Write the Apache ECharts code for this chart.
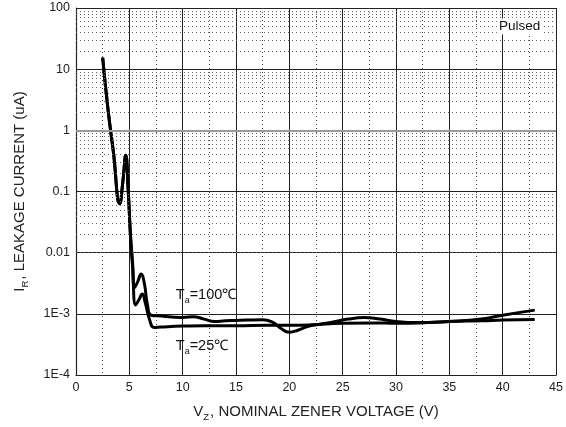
<!DOCTYPE html>
<html><head><meta charset="utf-8">
<script src="https://cdn.jsdelivr.net/npm/echarts@6/dist/echarts.min.js"></script>
<style>html,body{margin:0;padding:0;background:#fff}#c{width:566px;height:427px}</style>
</head><body><div id="c"></div>
<script>
// Data (V, uA)
const v100 = [2.5,3,3.5,4.1,4.4,4.66,4.9,5.1,5.3,5.5,5.8,6.1,6.4,6.7,7.05,8,9,10,11,12,13,14,15,16,17.5,18.5,19.2,20,20.8,21.7,22.5,24,25.5,27,28.5,30,32,35,38,40,43];
const i100 = [15.5,2.2,0.45,0.063,0.15,0.39,0.1,0.02,0.007,0.0027,0.0034,0.0045,0.0032,0.0014,0.00095,0.00092,0.00089,0.00087,0.0009,0.00082,0.00075,0.00077,0.00078,0.00079,0.0008,0.00072,0.00058,0.0005,0.00054,0.00062,0.00066,0.00073,0.00082,0.00087,0.00082,0.00075,0.00072,0.00075,0.00082,0.00095,0.00115];
const v25 = [2.5,3,3.5,4.1,4.4,4.66,4.9,5.1,5.3,5.6,5.9,6.2,6.5,6.9,7.3,8,10,12,15,18,20,22,25,28,30,33,35,38,40,43];
const i25 = [15.5,2.2,0.45,0.063,0.15,0.39,0.1,0.02,0.006,0.0014,0.0017,0.0021,0.0015,0.0008,0.0006,0.00061,0.00063,0.00064,0.00064,0.00065,0.00065,0.00066,0.0007,0.00071,0.0007,0.00072,0.00075,0.00077,0.00079,0.00081];
const yTickLabels = {'0.0001':'1E-4','0.001':'1E-3','0.01':'0.01','0.1':'0.1','1':'1','10':'10','100':'100'};
const minorMultipliers = [2,3,4,5,6,7,8,9];
const decades = [1e-4,1e-3,0.01,0.1,1,10];

const minorLines = [];
decades.forEach(d => minorMultipliers.forEach(m => minorLines.push({yAxis: +(d*m).toPrecision(3)})));
const greyLines = [{yAxis:1},{yAxis:1e-3}];

const chart = echarts.init(document.getElementById('c'));
const font = 'Liberation Sans, Arial, sans-serif';
chart.setOption({
  animation:false,
  backgroundColor:'#fff',
  grid:{left:76,right:7,top:8,bottom:50},
  xAxis:{type:'value',min:0,max:45,interval:5,
    axisLine:{lineStyle:{color:'#222',width:1.2}},
    axisTick:{show:false},
    axisLabel:{color:'#222',fontFamily:font,fontSize:12.5,margin:6},
    splitLine:{show:true,lineStyle:{color:'#222',width:1}},
    minorTick:{show:false,splitNumber:2},
    minorSplitLine:{show:true,lineStyle:{color:'#444',width:1,type:[1,3]}},
    name:'{n|V}{sub|Z}{n|, NOMINAL ZENER VOLTAGE (V)}',nameLocation:'middle',nameGap:27,
    nameTextStyle:{rich:{n:{fontSize:15,fontFamily:font,color:'#222'},sub:{fontSize:9.5,fontFamily:font,color:'#222',padding:[10,1,0,0]}}}
  },
  yAxis:{type:'log',logBase:10,min:1e-4,max:100,
    axisLine:{lineStyle:{color:'#222',width:1.2}},
    axisTick:{show:false},
    axisLabel:{color:'#222',fontFamily:font,fontSize:12.5,margin:6,formatter:function(v){const k=String(+v.toPrecision(1));return yTickLabels[k]!==undefined?yTickLabels[k]:k;}},
    splitLine:{show:true,lineStyle:{color:'#222',width:1}},
    name:'{n|I}{sub|R}{n|, LEAKAGE CURRENT (uA)}',nameLocation:'middle',nameGap:46,nameRotate:90,
    nameTextStyle:{rich:{n:{fontSize:15,fontFamily:font,color:'#222'},sub:{fontSize:9.5,fontFamily:font,color:'#222',padding:[10,1,0,0]}}}
  },
  series:[
    {type:'line',name:'grid',data:[],silent:true,
     markLine:{silent:true,symbol:'none',label:{show:false},animation:false,
       lineStyle:{color:'#666',width:1,type:[1,3]},data:minorLines}},
    {type:'line',name:'gridgrey',data:[],silent:true,
     markLine:{silent:true,symbol:'none',label:{show:false},animation:false,
       lineStyle:{color:'#999',width:2,type:'solid'},data:greyLines}},
    {type:'line',name:'Ta=100',smooth:0.5,symbol:'none',
     lineStyle:{color:'#000',width:3},
     data:v100.map((x,k)=>[x,i100[k]]),
     markPoint:{symbol:'rect',symbolSize:1,itemStyle:{color:'transparent'},
       data:[{coord:[9.4,0.002],label:{show:true,position:[0,0],align:'left',verticalAlign:'middle',
         formatter:'{n|T}{sub|a}{n|=100℃}',rich:{n:{fontSize:14.5,fontFamily:font,color:'#111'},sub:{fontSize:9,fontFamily:font,color:'#111',padding:[12,0,0,0]}}}},
         {coord:[39.5,49],label:{show:true,position:[0,0],align:'left',verticalAlign:'middle',
         formatter:'Pulsed',fontSize:13.5,fontFamily:font,color:'#111',backgroundColor:'#fff',padding:[1,2]}}]}
    },
    {type:'line',name:'Ta=25',smooth:0.5,symbol:'none',
     lineStyle:{color:'#000',width:3},
     data:v25.map((x,k)=>[x,i25[k]]),
     markPoint:{symbol:'rect',symbolSize:1,itemStyle:{color:'transparent'},
       data:[{coord:[9.4,0.000295],label:{show:true,position:[0,0],align:'left',verticalAlign:'middle',
         formatter:'{n|T}{sub|a}{n|=25℃}',rich:{n:{fontSize:14.5,fontFamily:font,color:'#111'},sub:{fontSize:9,fontFamily:font,color:'#111',padding:[12,0,0,0]}}}}]}
    }
  ]
});
</script></body></html>
